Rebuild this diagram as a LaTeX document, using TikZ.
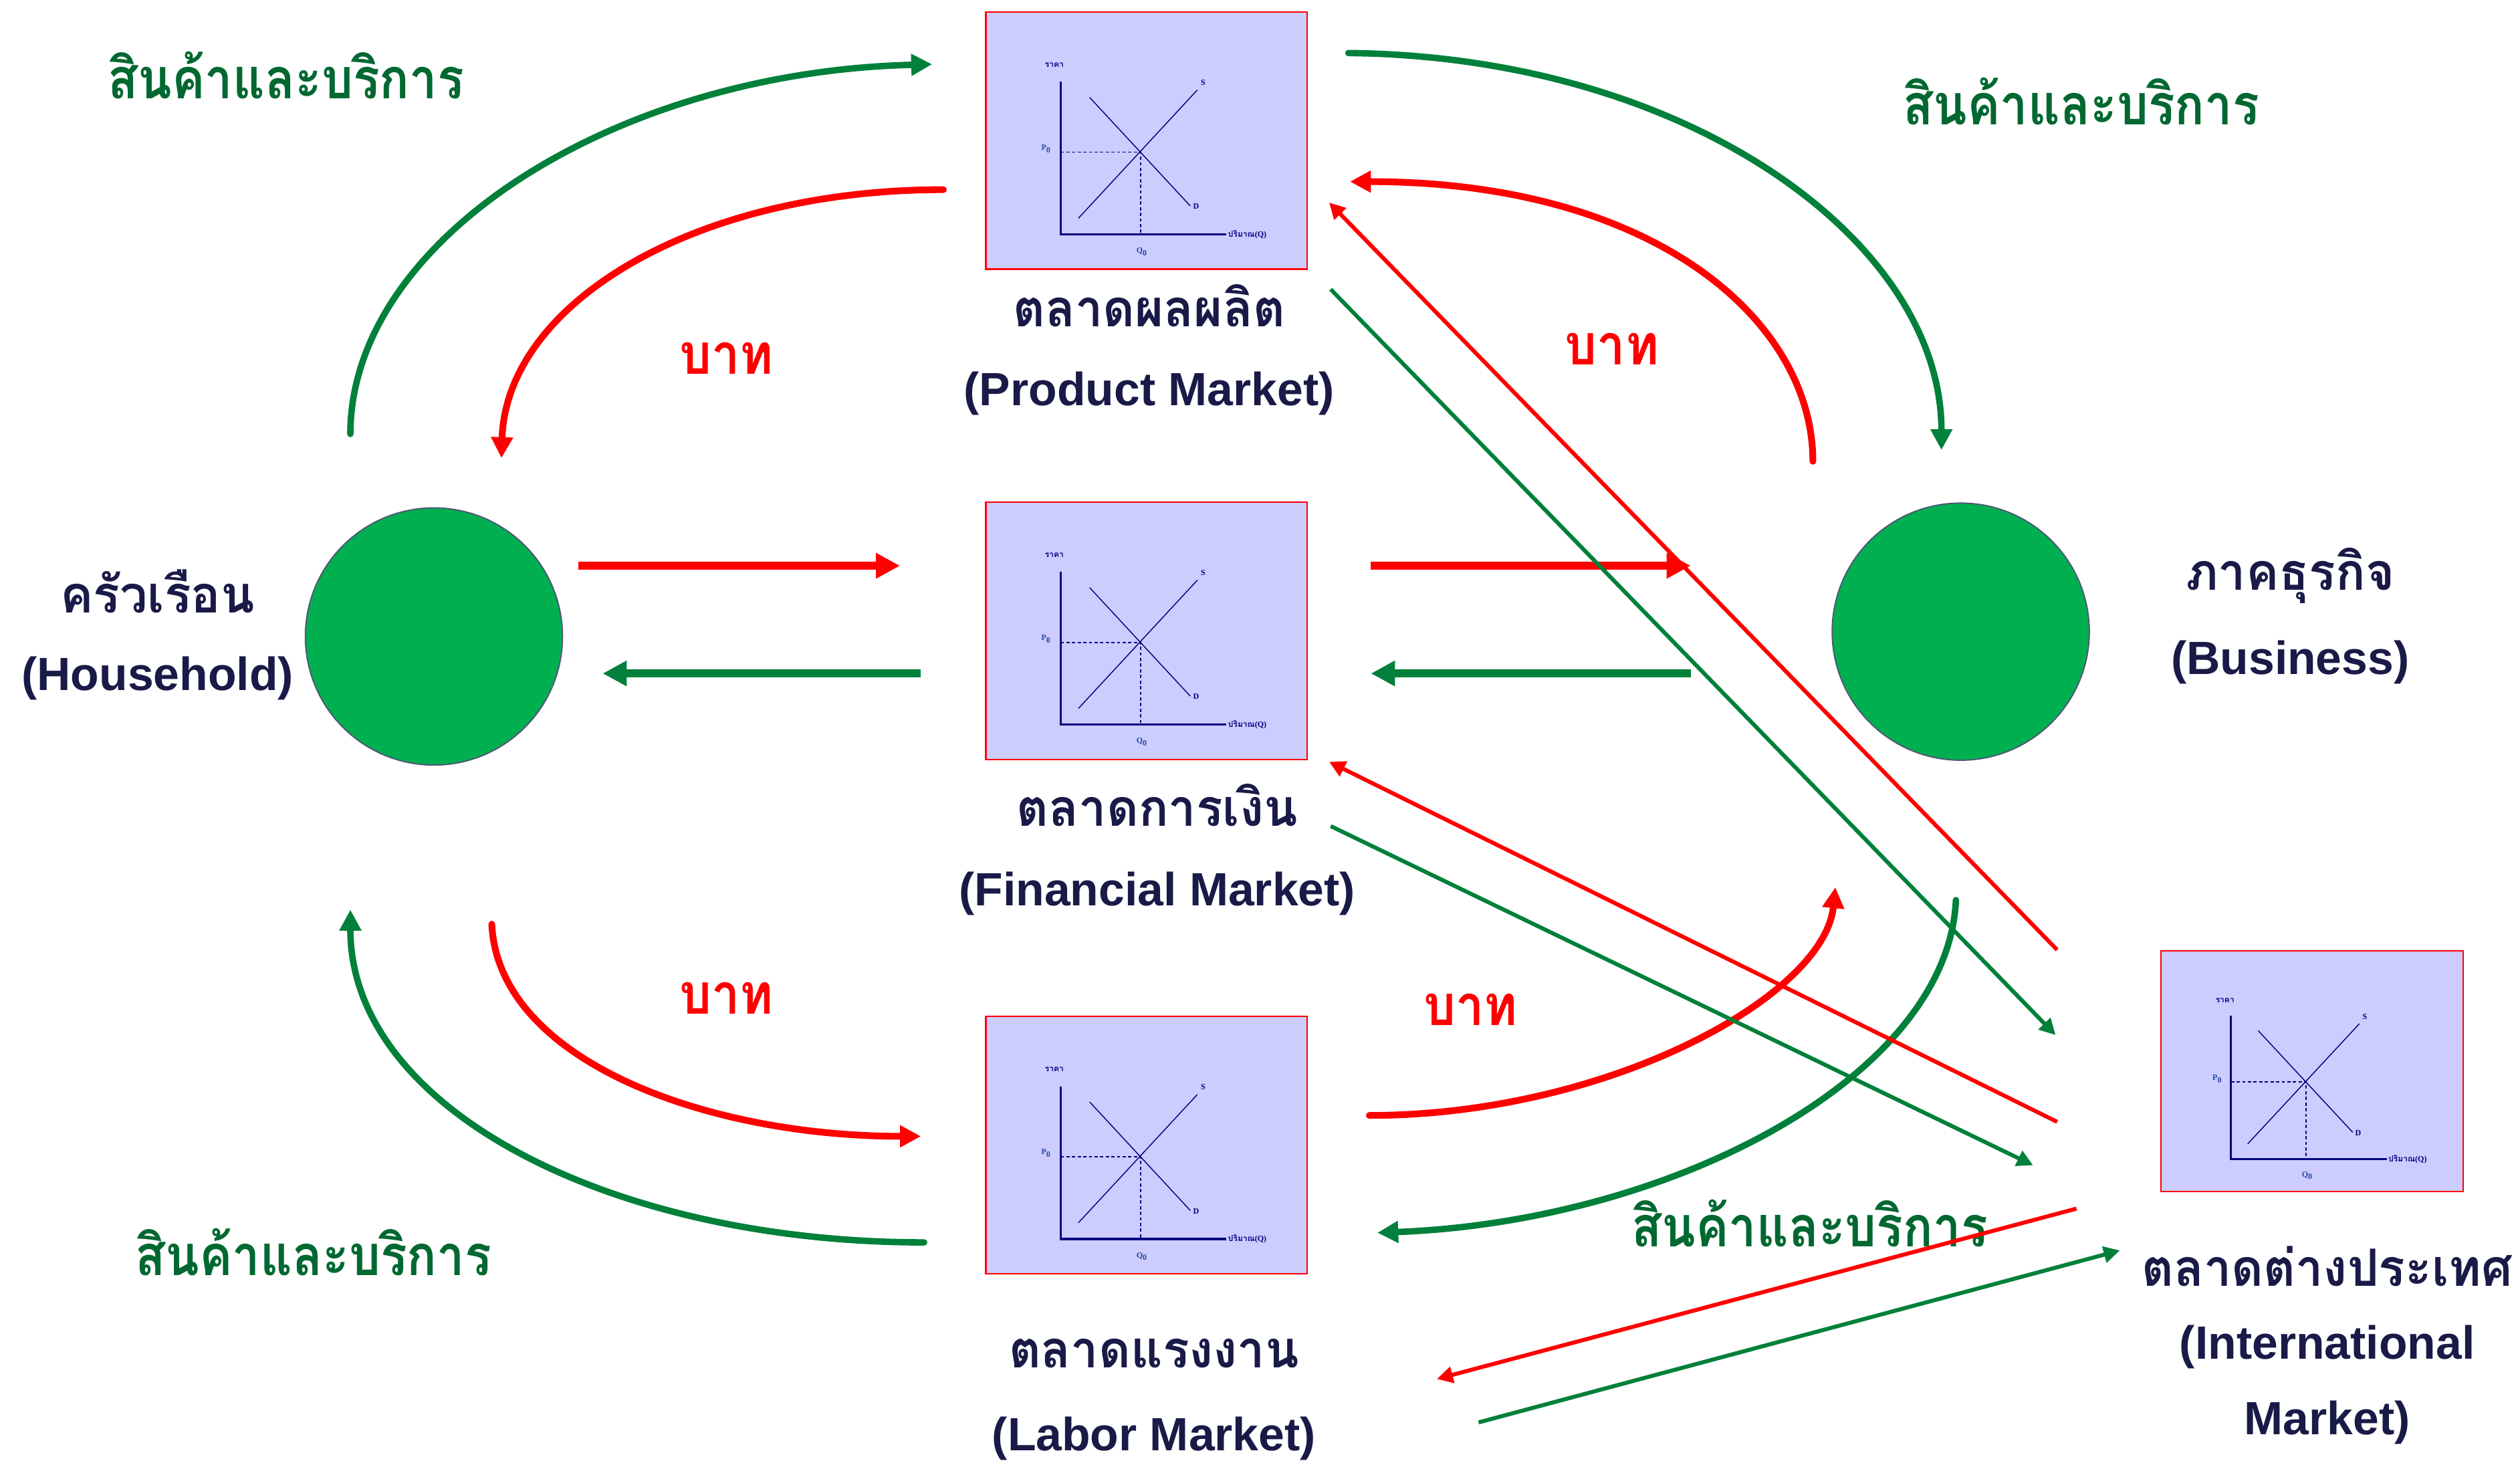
\documentclass[tikz,border=0pt]{standalone}
\usepackage{fontspec}
\setmainfont{Liberation Sans}
\newfontfamily\thai[Script=Thai]{Loma}
\newfontfamily\thaiN[Script=Thai,FakeStretch=0.96]{Loma}
\newfontfamily\thaiG[Script=Thai,FakeStretch=0.88]{Loma}
\newfontfamily\thaiR[Script=Thai,FakeStretch=0.9]{Loma}
\newfontfamily\serifchart{Liberation Serif}
\usetikzlibrary{arrows.meta}
\definecolor{gArrow}{RGB}{0,128,58}
\definecolor{gText}{RGB}{0,104,48}
\definecolor{rArrow}{RGB}{255,0,0}
\definecolor{navy}{RGB}{26,26,72}
\definecolor{boxfill}{RGB}{204,204,255}
\definecolor{chartc}{RGB}{0,0,128}
\definecolor{chartlab}{RGB}{40,70,160}
\definecolor{circfill}{RGB}{0,176,80}
\definecolor{circline}{RGB}{80,85,115}

\newcommand\drawchart[3]{%
\begin{scope}[shift={(#1.north west)},x=#2pt,y=-#3pt]
 \draw[chartc, line width=1.3pt] (0.235,0.274) -- (0.235,0.868) -- (0.750,0.868);
 \draw[chartc, line width=0.6pt] (0.290,0.805) -- (0.660,0.306);
 \draw[chartc, line width=0.6pt] (0.325,0.335) -- (0.638,0.757);
 \draw[chartc, line width=0.7pt, dash pattern=on 2pt off 1.5pt] (0.235,0.548) -- (0.484,0.548) -- (0.484,0.868);
 \node[chartlbl, text=chartc] at (0.215,0.209) {\thai ราคา};
 \node[chartlbl, text=chartc] at (0.678,0.277) {S};
 \node[chartlbl, text=chartc] at (0.656,0.759) {D};
 \node[chartlbl, text=chartlab] at (0.190,0.535) {P\textsubscript{0}};
 \node[chartlbl, text=chartlab] at (0.488,0.936) {Q\textsubscript{0}};
 \node[chartlbl, text=chartc, anchor=west] at (0.755,0.868) {\thai ปริมาณ\serifchart(Q)};
\end{scope}}

\begin{document}
\begin{tikzpicture}[x=1pt,y=-1pt,
  mbox/.style={draw=red, fill=boxfill, line width=0.9pt, inner sep=0pt, anchor=north west},
  chartlbl/.style={font=\serifchart\bfseries\fontsize{5}{6}\selectfont, inner sep=0pt},
  circ/.style={circle, fill=circfill, draw=circline, line width=0.8pt, minimum size=160pt, inner sep=0pt},
  navylbl/.style={text=navy, font=\bfseries\fontsize{29}{32}\selectfont, inner sep=0pt},
  navythai/.style={text=navy, font=\thaiN\bfseries\fontsize{32}{36}\selectfont, inner sep=0pt},
  greenthai/.style={text=gText, font=\thaiG\bfseries\fontsize{35}{40}\selectfont, inner sep=0pt},
  redthai/.style={text=rArrow, font=\thaiR\bfseries\fontsize{35}{40}\selectfont, inner sep=0pt},
  gcurve/.style={draw=gArrow, line width=4pt, line cap=round, -{Triangle[length=13pt,width=13pt]}},
  rcurve/.style={draw=rArrow, line width=4.2pt, line cap=round, -{Triangle[length=13pt,width=13pt]}},
  gbar/.style={draw=gArrow, line width=5pt, -{Triangle[length=15pt,width=15pt]}},
  rbar/.style={draw=rArrow, line width=5pt, -{Triangle[length=15pt,width=15pt]}},
  gthin/.style={draw=gArrow, line width=2.5pt, -{Triangle[length=10pt,width=10pt]}},
  rthin/.style={draw=rArrow, line width=2.5pt, -{Triangle[length=10pt,width=10pt]}}
]
\useasboundingbox (0,0) rectangle (1568,911.1);

% market boxes
\node[mbox, minimum width=200pt, minimum height=160pt] (pm) at (613,7) {};
\node[mbox, minimum width=200pt, minimum height=160pt] (fm) at (613,312) {};
\node[mbox, minimum width=200pt, minimum height=160pt] (lm) at (613,632) {};
\node[mbox, minimum width=188pt, minimum height=150pt] (im) at (1344,591) {};
\drawchart{pm}{200}{160}
\drawchart{fm}{200}{160}
\drawchart{lm}{200}{160}
\drawchart{im}{188}{150}

% sectors
\node[circ] (hh) at (270,396) {};
\node[circ] (bu) at (1220,393) {};

% labels
\node[navythai] (hhT) at (98,368) {ครัวเรือน};
\node[navylbl] (hhE) at (98,422) {(Household)};
\node[navythai] (buT) at (1425,358) {ภาคธุรกิจ};
\node[navylbl] (buE) at (1425,412) {(Business)};
\node[navythai] (pmT) at (715,190) {ตลาดผลผลิต};
\node[navylbl] (pmE) at (715,245) {(Product Market)};
\node[navythai] (fmT) at (720,501) {ตลาดการเงิน};
\node[navylbl] (fmE) at (720,556) {(Financial Market)};
\node[navythai] (lmT) at (718,842) {ตลาดแรงงาน};
\node[navylbl] (lmE) at (718,895) {(Labor Market)};
\node[navythai] (imT) at (1448,788) {ตลาดต่างประเทศ};
\node[navylbl] (imE1) at (1448,838) {(International};
\node[navylbl] (imE2) at (1448,885) {Market)};

\node[greenthai] (g1) at (178,47) {สินค้าและบริการ};
\node[greenthai] (g2) at (1295,63) {สินค้าและบริการ};
\node[greenthai] (g3) at (195,779) {สินค้าและบริการ};
\node[greenthai] (g4) at (1126,761) {สินค้าและบริการ};
\node[redthai] (b1) at (452,223) {บาท};
\node[redthai] (b2) at (1003,217) {บาท};
\node[redthai] (b3) at (452,621) {บาท};
\node[redthai] (b4) at (915,628) {บาท};

% connector end points
\coordinate (c1s) at (218,270); \coordinate (c1e) at (580,40);
\coordinate (c2s) at (587,118); \coordinate (c2e) at (312,285);
\coordinate (c3s) at (839,33);  \coordinate (c3e) at (1208,280);
\coordinate (c4s) at (1128,287); \coordinate (c4e) at (840,113);
\coordinate (c9s) at (306,575); \coordinate (c9e) at (573,707);
\coordinate (c10s) at (575,773); \coordinate (c10e) at (218,566);
\coordinate (c11s) at (852,694); \coordinate (c11e) at (1142,552);
\coordinate (c12s) at (1217,560); \coordinate (c12e) at (857,767);

% curved flows
\draw[gcurve] (c1s) .. controls (218,150) and (380,45) .. (c1e);
\draw[rcurve] (c2s) .. controls (430,118) and (315,190) .. (c2e);
\draw[gcurve] (c3s) .. controls (1050,35) and (1208,150) .. (c3e);
\draw[rcurve] (c4s) .. controls (1128,200) and (1030,113) .. (c4e);
\draw[rcurve] (c9s) .. controls (310,660) and (440,707) .. (c9e);
\draw[gcurve] (c10s) .. controls (380,773) and (218,690) .. (c10e);
\draw[rcurve] (c11s) .. controls (1000,694) and (1135,620) .. (c11e);
\draw[gcurve] (c12s) .. controls (1212,670) and (1040,760) .. (c12e);

% straight flows through the financial market
\coordinate (s5s) at (360,352); \coordinate (s5e) at (560,352);
\coordinate (s6s) at (573,419); \coordinate (s6e) at (375,419);
\coordinate (s7s) at (853,352); \coordinate (s7e) at (1052,352);
\coordinate (s8s) at (1052,419); \coordinate (s8e) at (853,419);
\draw[rbar] (s5s) -- (s5e);
\draw[gbar] (s6s) -- (s6e);
\draw[rbar] (s7s) -- (s7e);
\draw[gbar] (s8s) -- (s8e);

% international flows
\coordinate (t13s) at (1280,591); \coordinate (t13e) at (827,126);
\coordinate (t14s) at (828,180); \coordinate (t14e) at (1279,644);
\coordinate (t15s) at (1280,698); \coordinate (t15e) at (827,474);
\coordinate (t16s) at (828,514); \coordinate (t16e) at (1265,725);
\coordinate (t17s) at (1292,752); \coordinate (t17e) at (894,858);
\coordinate (t18s) at (920,885); \coordinate (t18e) at (1319,778);
\draw[rthin] (t13s) -- (t13e);
\draw[gthin] (t14s) -- (t14e);
\draw[rthin] (t15s) -- (t15e);
\draw[gthin] (t16s) -- (t16e);
\draw[rthin] (t17s) -- (t17e);
\draw[gthin] (t18s) -- (t18e);
\end{tikzpicture}
\end{document}
